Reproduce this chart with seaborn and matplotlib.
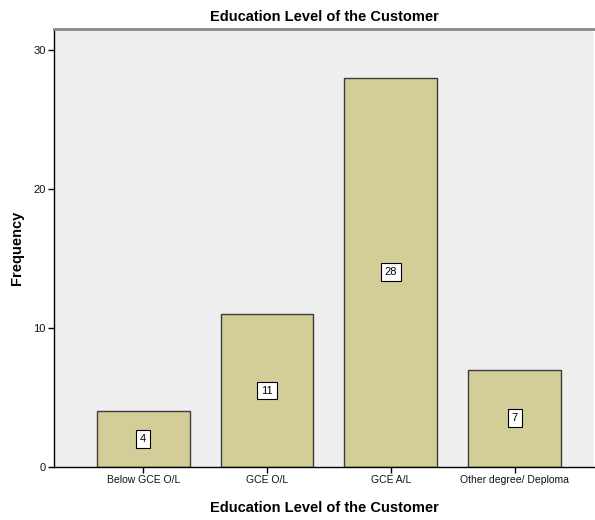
import matplotlib
matplotlib.use("Agg")
import matplotlib.pyplot as plt
import seaborn as sns
import pandas as pd

categories = ["Below GCE O/L", "GCE O/L", "GCE A/L", "Other degree/ Deploma"]
counts = [4, 11, 28, 7]
y_ticks = [0, 10, 20, 30]

df = pd.DataFrame({"level": categories, "freq": counts})

sns.set_theme(style="white")
plt.rcParams["font.family"] = ["Liberation Sans", "DejaVu Sans"]
plt.rcParams["text.color"] = "black"
plt.rcParams["axes.labelcolor"] = "black"

fig = plt.figure(figsize=(5.95, 5.2), dpi=100)
ax = fig.add_axes([54 / 595, 1 - 467 / 520, 540 / 595, (467 - 29) / 520])
ax.set_facecolor("#efefef")

sns.barplot(data=df, x="level", y="freq", color="#d3ce97", width=0.75,
            edgecolor="#3c3c3c", linewidth=1.0, saturation=1, ax=ax)

for i, v in enumerate(counts):
    ax.text(i, v / 2, str(v), ha="center", va="center", fontsize=8,
            color="black",
            bbox=dict(boxstyle="square,pad=0.35", fc="white", ec="black", lw=0.8))

ax.set_ylim(0, 31.5)
ax.set_xlim(-0.72, 3.64)
ax.set_yticks(y_ticks)
ax.set_yticklabels([str(t) for t in y_ticks], fontsize=8, color="#111111")
ax.set_xticks(range(len(categories)))
ax.set_xticklabels(categories, fontsize=7.5, color="#111111")
ax.tick_params(axis="both", length=4, width=1, color="black", direction="out",
               bottom=True, left=True, pad=2)

for side in ["left", "bottom"]:
    ax.spines[side].set_color("black")
    ax.spines[side].set_linewidth(1.0)
ax.spines["top"].set_color("#8a8a8a")
ax.spines["top"].set_linewidth(2.0)
ax.spines["right"].set_visible(False)

ax.set_xlabel("Education Level of the Customer", fontsize=10.5, fontweight="bold",
              labelpad=11, color="black")
ax.set_ylabel("Frequency", fontsize=10.5, fontweight="bold", labelpad=7,
              color="black")
ax.set_title("Education Level of the Customer", fontsize=10.5, fontweight="bold",
             pad=6, color="black")

fig.savefig("out.png", dpi=100)
